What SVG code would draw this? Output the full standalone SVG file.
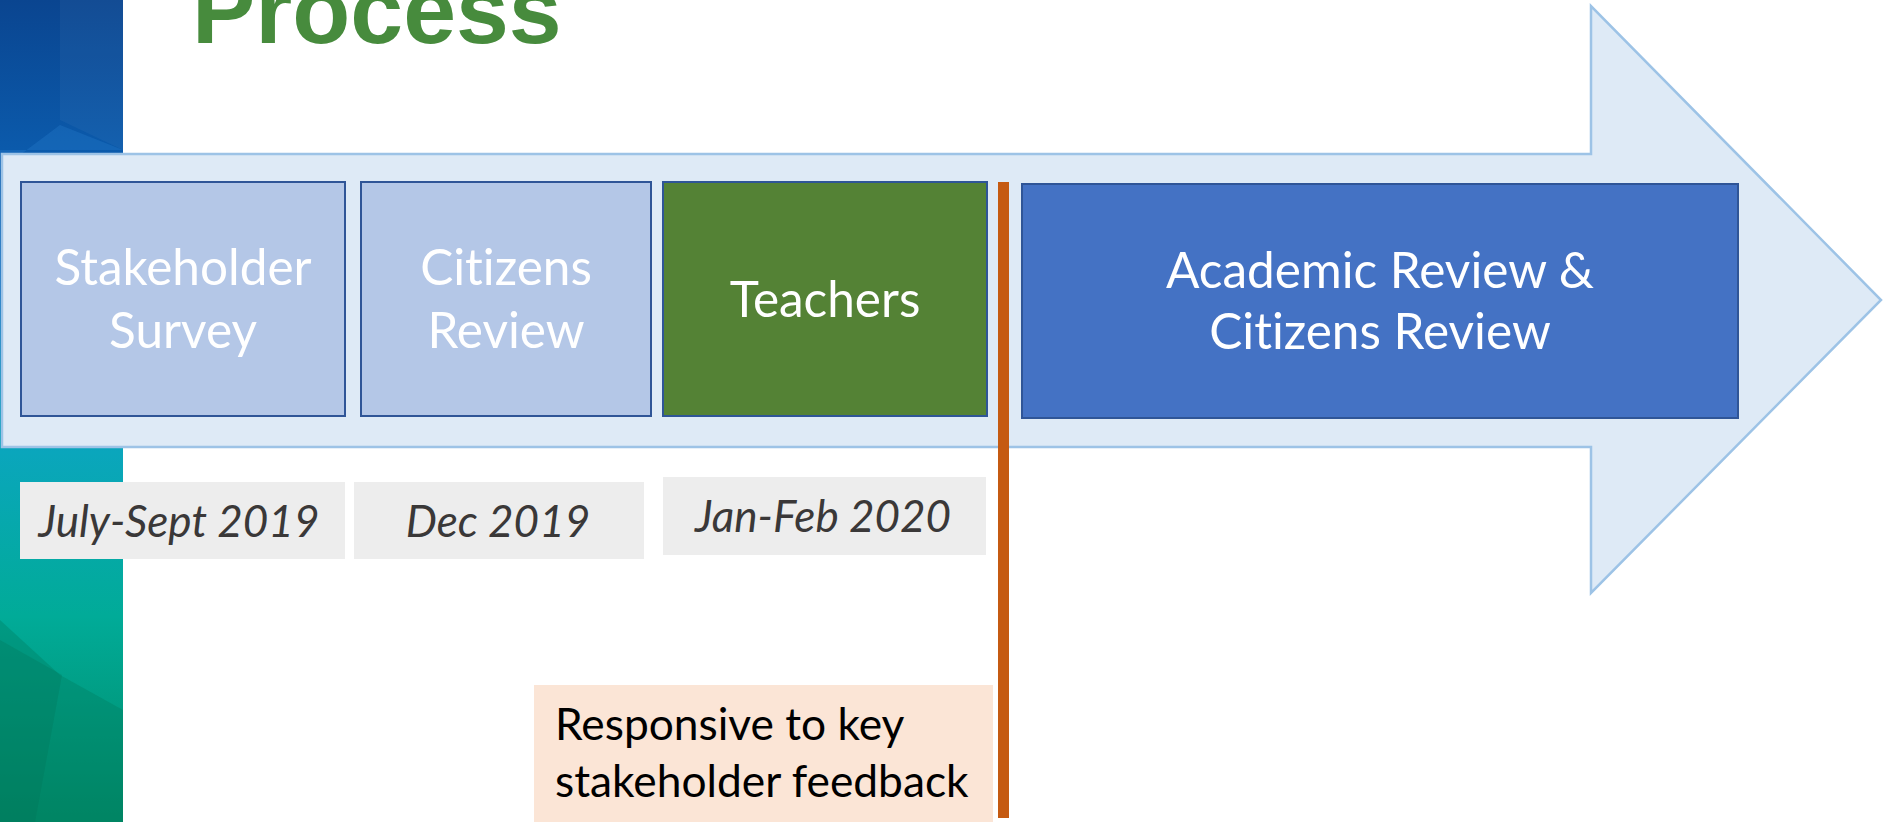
<svg xmlns="http://www.w3.org/2000/svg" width="1883" height="822" viewBox="0 0 1883 822">
  <style>
    text { font-variant-ligatures: none; font-feature-settings: "liga" 0, "clig" 0; }
    .box { stroke: #2F5597; stroke-width: 2; }
    .light { fill: #B4C7E7; }
    .boxtxt { font-family: Lato, "Liberation Sans", sans-serif; font-size: 49.5px; fill: #FFFFFF; text-anchor: middle; }
    .date { fill: #EDEDED; }
    .datetxt { font-family: Lato, "Liberation Sans", sans-serif; font-style: italic; font-size: 44px; fill: #3A3838; text-anchor: middle; }
    .note { font-family: Lato, "Liberation Sans", sans-serif; font-size: 44.3px; fill: #000000; }
  </style>
  <defs>
    <linearGradient id="panelGrad" x1="0" y1="0" x2="0" y2="1">
      <stop offset="0" stop-color="#0A4590"/>
      <stop offset="0.18" stop-color="#0B5AAB"/>
      <stop offset="0.35" stop-color="#1070C0"/>
      <stop offset="0.55" stop-color="#0AA6BC"/>
      <stop offset="0.75" stop-color="#01AB98"/>
      <stop offset="1" stop-color="#008A66"/>
    </linearGradient>
  </defs>
  <rect x="0" y="0" width="1883" height="822" fill="#FFFFFF"/>

  <g id="side-panel">
    <rect x="0" y="0" width="123" height="822" fill="url(#panelGrad)"/>
    <polygon points="60,0 123,0 123,150 60,120" fill="#FFFFFF" opacity="0.04"/>
    <polygon points="0,170 60,125 123,150 0,150" fill="#2A80D0" opacity="0.3"/>
    <polygon points="0,620 60,675 123,710 123,822 0,822" fill="#007A5E" opacity="0.35"/>
    <polygon points="0,640 62,675 35,822 0,822" fill="#006E55" opacity="0.25"/>
  </g>

  <g id="title">
    <text x="192" y="43" font-family="'Liberation Sans', Arial, sans-serif" font-weight="bold" font-size="95" fill="#478B3D">Process</text>
  </g>

  <g id="arrow">
    <polygon points="2,154 1591,154 1591,6 1881,300 1591,593 1591,447 2,447" fill="#DEEAF6" stroke="#9DC3E6" stroke-width="2.5" stroke-linejoin="miter"/>
  </g>

  <g id="stakeholder-survey">
    <rect class="box light" x="21" y="182" width="324" height="234"/>
    <text class="boxtxt" x="183" y="285">Stakeholder</text>
    <text class="boxtxt" x="183" y="348">Survey</text>
  </g>

  <g id="citizens-review">
    <rect class="box light" x="361" y="182" width="290" height="234"/>
    <text class="boxtxt" x="506" y="285">Citizens</text>
    <text class="boxtxt" x="506" y="348">Review</text>
  </g>

  <g id="teachers">
    <rect class="box" x="663" y="182" width="324" height="234" fill="#548235"/>
    <text class="boxtxt" x="825" y="317">Teachers</text>
  </g>

  <g id="academic-review">
    <rect class="box" x="1022" y="184" width="716" height="234" fill="#4472C4"/>
    <text class="boxtxt" x="1380" y="288">Academic Review &amp;</text>
    <text class="boxtxt" x="1380" y="349">Citizens Review</text>
  </g>

  <g id="date-1">
    <rect class="date" x="20" y="482" width="325" height="77"/>
    <text class="datetxt" x="179" y="537">July-Sept 2019</text>
  </g>
  <g id="date-2">
    <rect class="date" x="354" y="482" width="290" height="77"/>
    <text class="datetxt" x="498" y="537">Dec 2019</text>
  </g>
  <g id="date-3">
    <rect class="date" x="663" y="477" width="323" height="78"/>
    <text class="datetxt" x="823" y="532">Jan-Feb 2020</text>
  </g>

  <g id="feedback-note">
    <rect x="534" y="685" width="459" height="137" fill="#FBE5D6"/>
    <text class="note" x="555" y="740">Responsive to key</text>
    <text class="note" x="555" y="797">stakeholder feedback</text>
  </g>

  <g id="connectors">
    <rect id="divider" x="998" y="182" width="11" height="636" fill="#C55A11"/>
  </g>
</svg>
